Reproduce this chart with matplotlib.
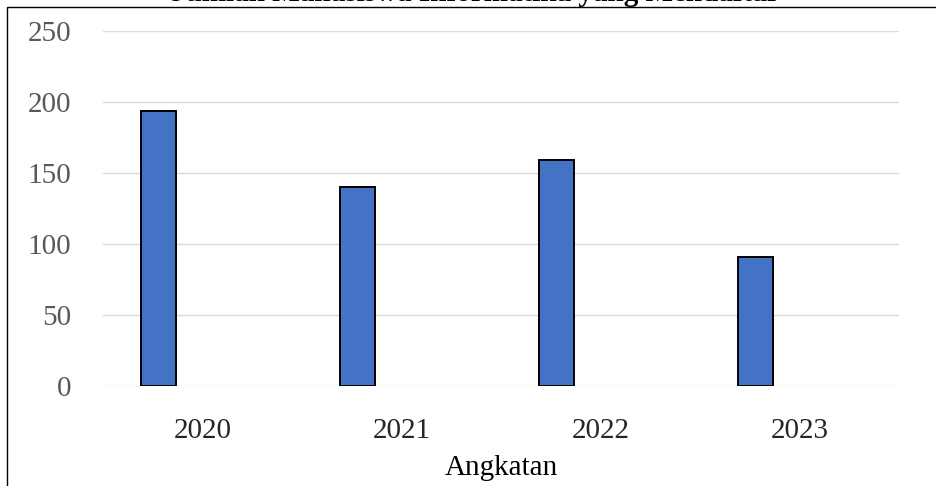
import numpy as np
import matplotlib
matplotlib.use("Agg")
import matplotlib.pyplot as plt
from matplotlib.patches import Rectangle

# data
angkatan = ["2020", "2021", "2022", "2023"]
jumlah = [194, 140, 159, 91]
y_ticks = [0, 50, 100, 150, 200, 250]
judul = "Jumlah Mahasiswa Informatika yang Mendaftar"

plt.rcParams['font.family'] = ['Liberation Serif', 'DejaVu Serif']

W, H = 936, 486
fig = plt.figure(figsize=(W / 100, H / 100), dpi=100)

# chart frame (only left and top edges fall inside the image)
fig.patches.append(Rectangle((7 / W, -0.1), 1.2, 1.1 - 7 / H, transform=fig.transFigure,
                             fill=False, edgecolor="black", linewidth=1.0, zorder=0))

ax = fig.add_axes([103 / W, 1 - 386 / H, (899 - 103) / W, (386 - 31) / H])

x = np.arange(len(angkatan))
ax.bar(x - 0.221, jumlah, width=0.173, color="#4472C4", edgecolor="black",
       linewidth=1.4, zorder=3)

ax.set_xlim(-0.5, len(angkatan) - 0.5)
ax.set_ylim(0, 250)
ax.set_yticks(y_ticks)
ax.set_xticks(x)
ax.set_xticklabels(angkatan)
ax.tick_params(axis="both", length=0, labelsize=21)
ax.tick_params(axis="x", pad=23, labelcolor="#262626")
ax.tick_params(axis="y", pad=23, labelcolor="#595959")
ax.grid(axis="y", color="#D9D9D9", linewidth=1.0, zorder=0)
ax.set_axisbelow(True)
for s in ax.spines.values():
    s.set_visible(False)

ax.set_xlabel("Angkatan", fontsize=21, color="black", labelpad=8)

# title sits mostly above the cropped top edge
fig.text(475 / W, 1 - 1.0 / H, judul, ha="center", va="baseline",
         fontsize=21, fontweight="bold", color="black")

fig.savefig("out.png", dpi=100)
